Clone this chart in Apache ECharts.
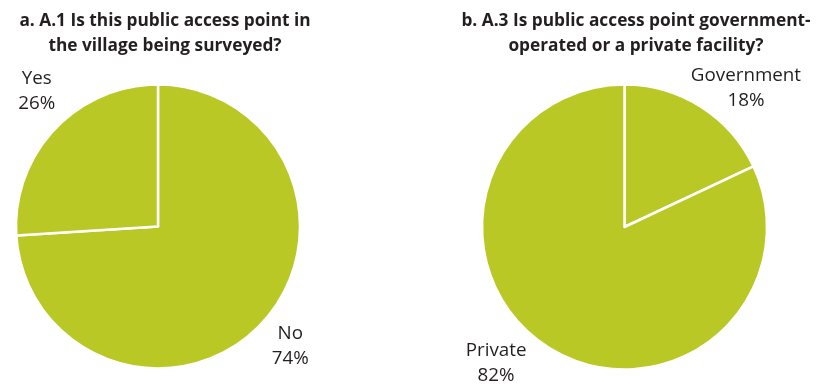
<!DOCTYPE html>
<html>
<head>
<meta charset="utf-8">
<script src="https://cdn.jsdelivr.net/npm/echarts@6/dist/echarts.min.js"></script>
<style>
  html, body { margin: 0; padding: 0; background: #ffffff; }
  #chart { width: 822px; height: 385px; }
</style>
</head>
<body>
<div id="chart"></div>
<script>
// Survey answers, percent of public access points
const villageCategories = ['No', 'Yes'];
const villageValues = [74, 26];

const operatorCategories = ['Government', 'Private'];
const operatorValues = [18, 82];

const titleA = 'a. A.1 Is this public access point in\nthe village being surveyed?';
const titleB = 'b. A.3 Is public access point government-\noperated or a private facility?';

const FONT = '"Open Sans", sans-serif';
const TEXT = '#231f20';
const GREEN = '#bac826';

// Pie geometry (pixels)
const pies = [
  { center: [158, 226.5], radius: 142, values: villageValues },
  { center: [624.5, 227], radius: 142.5, values: operatorValues }
];
// Small hand nudges for the outside labels, per series then per slice
const labelNudge = [
  [[1, -4], [10, -12]],
  [[25, 13], [-32, -16]]
];
const LABEL_DIST = 180;

function labelPos(params) {
  const pie = pies[params.seriesIndex];
  const vals = pie.values;
  const total = vals.reduce((a, b) => a + b, 0);
  let before = 0;
  for (let i = 0; i < params.dataIndex; i++) before += vals[i];
  const mid = (before + vals[params.dataIndex] / 2) / total * 2 * Math.PI;
  const n = labelNudge[params.seriesIndex][params.dataIndex];
  return {
    x: pie.center[0] + LABEL_DIST * Math.sin(mid) + n[0],
    y: pie.center[1] - LABEL_DIST * Math.cos(mid) + n[1],
    align: 'center',
    verticalAlign: 'middle'
  };
}

function pieSeries(idx, cats, vals) {
  return {
    type: 'pie',
    center: pies[idx].center,
    radius: [0, pies[idx].radius],
    startAngle: 90,
    clockwise: true,
    animation: false,
    silent: true,
    avoidLabelOverlap: false,
    data: cats.map((c, i) => ({ name: c, value: vals[i] })),
    itemStyle: { color: GREEN, borderColor: '#ffffff', borderWidth: 2.5 },
    label: {
      show: true,
      position: 'outside',
      formatter: '{b}\n{c}%',
      fontFamily: FONT,
      fontSize: 18.8,
      lineHeight: 25,
      color: TEXT,
      align: 'center',
      width: 170,
      overflow: 'none'
    },
    labelLine: { show: false },
    labelLayout: labelPos,
    emphasis: { disabled: true }
  };
}

const chart = echarts.init(document.getElementById('chart'), null, { renderer: 'canvas' });
chart.setOption({
  backgroundColor: '#ffffff',
  title: [
    {
      text: titleA, left: 160, top: 4, textAlign: 'center',
      textStyle: { fontFamily: FONT, fontWeight: 'bold', fontSize: 17.3, lineHeight: 25, color: TEXT }
    },
    {
      text: titleB, left: 631, top: 4, textAlign: 'center',
      textStyle: { fontFamily: FONT, fontWeight: 'bold', fontSize: 17.3, lineHeight: 25, color: TEXT }
    }
  ],
  series: [
    pieSeries(0, villageCategories, villageValues),
    pieSeries(1, operatorCategories, operatorValues)
  ]
});
</script>
</body>
</html>
